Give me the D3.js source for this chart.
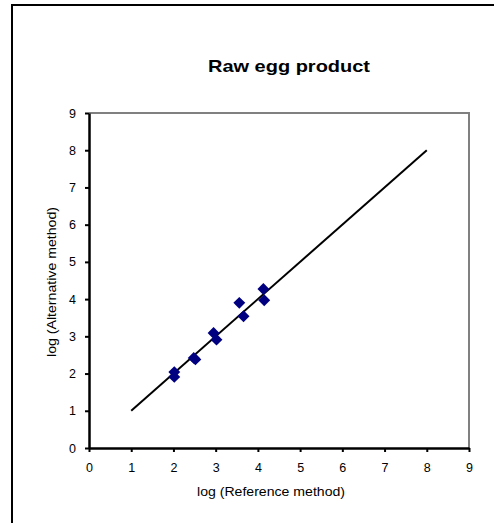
<!DOCTYPE html>
<html>
<head>
<meta charset="utf-8">
<script src="https://cdn.jsdelivr.net/npm/d3@7"></script>
<style>
  body { margin: 0; background: #fff; }
  svg { display: block; font-family: Arial, "Liberation Sans", sans-serif; }
</style>
</head>
<body>
<div id="chart"></div>
<script>
// Data
const refValues = [2.02, 2.02, 2.48, 2.52, 2.95, 3.02, 3.56, 3.66, 4.13, 4.15];
const altValues = [2.04, 1.91, 2.42, 2.38, 3.09, 2.91, 3.90, 3.54, 4.27, 3.97];
const lineX = [1, 8];
const lineY = [1, 8];
const xTicks = [0, 1, 2, 3, 4, 5, 6, 7, 8, 9];
const yTicks = [0, 1, 2, 3, 4, 5, 6, 7, 8, 9];

const W = 494, H = 523;
const margin = { top: 113, left: 89 },
      width = 469 - margin.left,
      height = 448 - margin.top;

const svg = d3.select("#chart")
  .append("svg")
  .attr("width", W)
  .attr("height", H);

// outer frame (runs off the right and bottom edges)
svg.append("rect")
  .attr("x", 12).attr("y", 5)
  .attr("width", 500).attr("height", 540)
  .attr("fill", "none")
  .attr("stroke", "#000")
  .attr("stroke-width", 2);

svg.append("text")
  .attr("x", 289).attr("y", 72)
  .attr("text-anchor", "middle")
  .attr("textLength", 162)
  .attr("lengthAdjust", "spacingAndGlyphs")
  .style("font-size", "17px")
  .style("font-weight", "bold")
  .text("Raw egg product");

const g = svg.append("g")
  .attr("transform", `translate(${margin.left},${margin.top})`);

// Scales
const x = d3.scaleLinear().domain([0, 9]).range([0, width]);
const y = d3.scaleLinear().domain([0, 9]).range([height, 0]);

// grey top/right border of plot area
g.append("path")
  .attr("d", `M0,0H${width}V${height}`)
  .attr("fill", "none")
  .attr("stroke", "#808080")
  .attr("stroke-width", 2);

// X axis
const xAxis = g.append("g")
  .attr("transform", `translate(0,${height})`)
  .call(d3.axisBottom(x).tickValues(xTicks).tickFormat(d3.format("d")).tickSizeInner(4).tickSizeOuter(0).tickPadding(11));

// Y axis
const yAxis = g.append("g")
  .call(d3.axisLeft(y).tickValues(yTicks).tickFormat(d3.format("d")).tickSizeInner(4).tickSizeOuter(0).tickPadding(9));

[xAxis, yAxis].forEach(a => {
  a.select(".domain").attr("stroke", "#000").attr("stroke-width", 2.5);
  a.selectAll(".tick line").attr("stroke", "#000").attr("stroke-width", 2);
  a.selectAll(".tick text").attr("fill", "#000").style("font-size", "12.5px").style("font-family", "Arial, 'Liberation Sans', sans-serif");
});

// axis titles
svg.append("text")
  .attr("x", 271).attr("y", 496)
  .attr("text-anchor", "middle")
  .attr("textLength", 148)
  .attr("lengthAdjust", "spacingAndGlyphs")
  .style("font-size", "12.5px")
  .text("log (Reference method)");

svg.append("text")
  .attr("transform", "translate(56,282) rotate(-90)")
  .attr("text-anchor", "middle")
  .attr("textLength", 150)
  .attr("lengthAdjust", "spacingAndGlyphs")
  .style("font-size", "12.5px")
  .text("log (Alternative method)");

// 1:1 line
g.append("line")
  .attr("x1", x(lineX[0])).attr("y1", y(lineY[0]))
  .attr("x2", x(lineX[1])).attr("y2", y(lineY[1]))
  .attr("stroke", "#000")
  .attr("stroke-width", 2);

// points
const points = refValues.map((v, i) => [v, altValues[i]]);
g.selectAll(".pt")
  .data(points)
  .enter()
  .append("path")
  .attr("class", "pt")
  .attr("d", d3.symbol().type(d3.symbolDiamond2).size(90))
  .attr("transform", d => `translate(${x(d[0])},${y(d[1])})`)
  .attr("fill", "#000080");
</script>
</body>
</html>
